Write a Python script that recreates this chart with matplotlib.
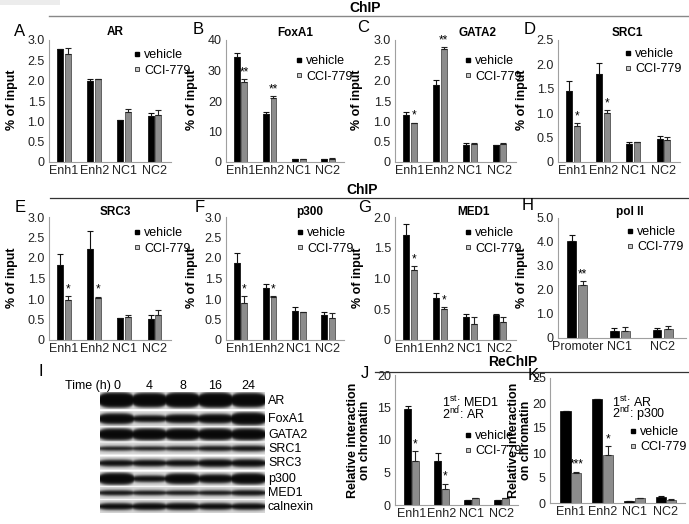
import numpy as np
import matplotlib
matplotlib.use("Agg")
import matplotlib.pyplot as plt
from matplotlib.lines import Line2D
from matplotlib.patches import Rectangle

plt.rcParams["font.family"] = ["Liberation Sans", "DejaVu Sans"]
plt.rcParams["mathtext.fontset"] = "custom"
plt.rcParams["mathtext.rm"] = "Liberation Sans"

W, H = 689, 524

# ---- data -------------------------------------------------------------
cats4 = ["Enh1", "Enh2", "NC1", "NC2"]
cats_pol = ["Promoter", "NC1", "NC2"]

ar_veh = [2.78, 1.98, 1.04, 1.14]
ar_veh_err = [0.0, 0.07, 0.0, 0.06]
ar_cci = [2.66, 2.04, 1.23, 1.15]
ar_cci_err = [0.14, 0.01, 0.08, 0.14]
ar_stars = ["", "", "", ""]

foxa1_veh = [34.3, 15.7, 0.9, 0.9]
foxa1_veh_err = [1.4, 0.7, 0.05, 0.05]
foxa1_cci = [26.3, 20.9, 0.9, 1.1]
foxa1_cci_err = [0.9, 0.8, 0.05, 0.05]
foxa1_stars = ["**", "**", "", ""]

gata2_veh = [1.16, 1.89, 0.43, 0.42]
gata2_veh_err = [0.06, 0.12, 0.03, 0.01]
gata2_cci = [0.95, 2.79, 0.44, 0.44]
gata2_cci_err = [0.02, 0.04, 0.03, 0.03]
gata2_stars = ["*", "**", "", ""]

src1_veh = [1.46, 1.80, 0.36, 0.48]
src1_veh_err = [0.20, 0.22, 0.06, 0.06]
src1_cci = [0.73, 1.00, 0.41, 0.46]
src1_cci_err = [0.06, 0.06, 0.01, 0.05]
src1_stars = ["*", "*", "", ""]

src3_veh = [1.83, 2.21, 0.53, 0.52]
src3_veh_err = [0.27, 0.44, 0.0, 0.10]
src3_cci = [0.98, 1.03, 0.56, 0.61]
src3_cci_err = [0.10, 0.03, 0.06, 0.13]
src3_stars = ["*", "*", "", ""]

p300_veh = [1.89, 1.28, 0.71, 0.60]
p300_veh_err = [0.22, 0.08, 0.10, 0.09]
p300_cci = [0.90, 1.06, 0.69, 0.54]
p300_cci_err = [0.18, 0.02, 0.0, 0.13]
p300_stars = ["*", "*", "", ""]

med1_veh = [1.70, 0.69, 0.37, 0.40]
med1_veh_err = [0.18, 0.08, 0.05, 0.02]
med1_cci = [1.14, 0.51, 0.26, 0.30]
med1_cci_err = [0.06, 0.02, 0.11, 0.07]
med1_stars = ["*", "*", "", ""]

pol2_veh = [4.04, 0.31, 0.33]
pol2_veh_err = [0.27, 0.12, 0.07]
pol2_cci = [2.20, 0.31, 0.37]
pol2_cci_err = [0.18, 0.15, 0.12]
pol2_stars = ["**", "", ""]

re_med1_veh = [14.7, 6.8, 0.8, 0.7]
re_med1_veh_err = [0.6, 1.2, 0.0, 0.0]
re_med1_cci = [6.7, 2.5, 1.1, 1.1]
re_med1_cci_err = [1.6, 0.8, 0.05, 0.05]
re_med1_stars = ["*", "*", "", ""]

re_ar_veh = [18.4, 20.9, 0.5, 1.2]
re_ar_veh_err = [0.0, 0.0, 0.0, 0.3]
re_ar_cci = [6.0, 9.6, 1.0, 0.7]
re_ar_cci_err = [0.3, 1.8, 0.1, 0.1]
re_ar_stars = ["***", "*", "", ""]

blot_times = ["0", "4", "8", "16", "24"]
blot_proteins = ["AR", "FoxA1", "GATA2", "SRC1", "SRC3", "p300", "MED1", "calnexin"]
blot_bands = [
    [1.00, 0.95, 1.00, 1.00, 0.95],
    [0.85, 0.55, 0.70, 0.75, 1.00],
    [1.00, 1.00, 1.00, 1.00, 1.00],
    [0.40, 0.40, 0.40, 0.50, 0.55],
    [0.60, 0.60, 0.60, 0.70, 0.70],
    [1.00, 0.55, 0.90, 0.75, 0.95],
    [0.50, 0.45, 0.45, 0.45, 0.55],
    [0.60, 0.65, 0.65, 0.60, 0.60],
]

VEH = "#000000"
CCI = "#8c8c8c"
AXC = "#a0a0a0"

fig = plt.figure(figsize=(W / 100, H / 100), dpi=100)


def px_axes(x0, yt, x1, yb):
    return fig.add_axes([x0 / W, 1 - yb / H, (x1 - x0) / W, (yb - yt) / H])


def ftext(x, y, s, **kw):
    kw.setdefault("ha", "center")
    kw.setdefault("va", "center")
    return fig.text(x / W, 1 - y / H, s, **kw)


def bar_panel(box, cats, veh, veh_err, cci, cci_err, stars, ymax, step,
              xlim=(-0.5, 3.55), width=0.2, off=0.13, decimals=1, leg=None):
    ax = px_axes(*box)
    x = np.arange(len(cats))
    z = [0] * len(cats)
    ax.bar(x - off, veh, width, color=VEH, edgecolor=VEH, linewidth=0.5, zorder=2)
    ax.bar(x + off, cci, width, color=CCI, edgecolor="#3a3a3a", linewidth=0.5, zorder=2)
    ax.errorbar(x - off, veh, yerr=[z, veh_err], fmt="none", ecolor="#111",
                elinewidth=0.8, capsize=2, capthick=0.8, zorder=3)
    ax.errorbar(x + off, cci, yerr=[z, cci_err], fmt="none", ecolor="#222",
                elinewidth=0.8, capsize=2, capthick=0.8, zorder=3)
    for i, s in enumerate(stars):
        if s:
            ax.annotate(s, (x[i] + off, cci[i] + cci_err[i]), xytext=(0, 0.5),
                        textcoords="offset points", ha="center", va="bottom",
                        fontsize=8.5)
    ax.set_xlim(*xlim)
    ax.set_ylim(0, ymax)
    ticks = np.arange(0, ymax + step / 2, step)
    ax.set_yticks(ticks)
    ax.set_yticklabels(["0" if t == 0 else ("%.*f" % (decimals, t)) for t in ticks])
    ax.set_xticks(x)
    ax.set_xticklabels(cats)
    ax.tick_params(axis="both", length=0, labelsize=9, colors="#222")
    ax.tick_params(axis="y", pad=3)
    ax.tick_params(axis="x", pad=2.5)
    for sp in ["top", "right"]:
        ax.spines[sp].set_visible(False)
    for sp in ["left", "bottom"]:
        ax.spines[sp].set_color(AXC)
        ax.spines[sp].set_linewidth(0.8)
    ax.patch.set_alpha(0)
    if leg is not None:
        hx, hy = leg
        handles = [
            Line2D([], [], ls="", marker="s", markersize=3.4, mfc=VEH, mec=VEH),
            Line2D([], [], ls="", marker="s", markersize=3.4, mfc="#c8c8c8", mec="#444",
                   mew=0.7),
        ]
        ax.legend(handles, ["vehicle", "CCI-779"], loc="upper left",
                  bbox_to_anchor=((hx - 3.5) / W, 1 - (hy - 7) / H),
                  bbox_transform=fig.transFigure, frameon=False, fontsize=9,
                  handlelength=0.55, handletextpad=0.3, labelspacing=0.28,
                  borderpad=0, borderaxespad=0)
    return ax


# ---- headers ---------------------------------------------------------
fig.add_artist(Rectangle((0, 1 - 5 / H), 60 / W, 5 / H, transform=fig.transFigure,
                         color="#ececec", lw=0))
fig.add_artist(Line2D([49 / W, 1], [1 - 16 / H] * 2, color="#888", lw=1.0))
ftext(365, 8, "ChIP", fontsize=10, fontweight="bold")
fig.add_artist(Line2D([50 / W, 1], [1 - 198 / H] * 2, color="#333", lw=0.9))
ftext(362, 190, "ChIP", fontsize=10, fontweight="bold")
fig.add_artist(Line2D([375 / W, 1], [1 - 372 / H] * 2, color="#333", lw=0.9))
ftext(513, 362, "ReChIP", fontsize=10, fontweight="bold")

# ---- row 1 -----------------------------------------------------------
r1 = (40, 162)
bar_panel((49, r1[0], 171, r1[1]), cats4, ar_veh, ar_veh_err, ar_cci, ar_cci_err,
          ar_stars, 3.0, 0.5, leg=(137, 56))
bar_panel((226, r1[0], 344, r1[1]), cats4, foxa1_veh, foxa1_veh_err, foxa1_cci,
          foxa1_cci_err, foxa1_stars, 40, 10, decimals=0, leg=(299, 62))
bar_panel((395, r1[0], 516, r1[1]), cats4, gata2_veh, gata2_veh_err, gata2_cci,
          gata2_cci_err, gata2_stars, 3.0, 0.5, leg=(468, 62))
bar_panel((558, r1[0], 680, r1[1]), cats4, src1_veh, src1_veh_err, src1_cci,
          src1_cci_err, src1_stars, 2.5, 0.5, leg=(628, 55))

# ---- row 2 -----------------------------------------------------------
r2 = (217, 340)
bar_panel((49, r2[0], 171, r2[1]), cats4, src3_veh, src3_veh_err, src3_cci,
          src3_cci_err, src3_stars, 3.0, 0.5, leg=(137, 234))
bar_panel((226, r2[0], 344, r2[1]), cats4, p300_veh, p300_veh_err, p300_cci,
          p300_cci_err, p300_stars, 3.0, 0.5, leg=(300, 234))
bar_panel((395, r2[0], 516, r2[1]), cats4, med1_veh, med1_veh_err, med1_cci,
          med1_cci_err, med1_stars, 2.0, 0.5, leg=(468, 234))
bar_panel((558, 218, 686, 338), cats_pol, pol2_veh, pol2_veh_err, pol2_cci,
          pol2_cci_err, pol2_stars, 5.0, 1.0, xlim=(-0.45, 2.55), width=0.21,
          leg=(630, 233))

# ---- row 3 (ReChIP) --------------------------------------------------
bar_panel((395, 375, 518, 505), cats4, re_med1_veh, re_med1_veh_err, re_med1_cci,
          re_med1_cci_err, re_med1_stars, 20, 5, decimals=0, xlim=(-0.55, 3.55),
          width=0.22, leg=(468, 437))
bar_panel((550, 378, 685, 503), cats4, re_ar_veh, re_ar_veh_err, re_ar_cci,
          re_ar_cci_err, re_ar_stars, 25, 5, decimals=0, xlim=(-0.66, 3.6),
          width=0.32, off=0.17, leg=(633, 433))

ftext(442, 402, r"1$^{\mathrm{st}}$: MED1", fontsize=9, ha="left")
ftext(442, 414, r"2$^{\mathrm{nd}}$: AR", fontsize=9, ha="left")
ftext(612, 402, r"1$^{\mathrm{st}}$: AR", fontsize=9, ha="left")
ftext(612, 414, r"2$^{\mathrm{nd}}$: p300", fontsize=9, ha="left")

# ---- titles, letters, y labels ----------------------------------------
titles = [("AR", 115, 32), ("FoxA1", 295, 33), ("GATA2", 478, 33), ("SRC1", 627, 33),
          ("SRC3", 115, 212), ("p300", 310, 212), ("MED1", 473, 212), ("pol II", 630, 212)]
for t, x, y in titles:
    ftext(x, y, t, fontsize=8.5, fontweight="bold")

letters = [("A", 20, 32), ("B", 198, 30), ("C", 363, 28), ("D", 530, 30),
           ("E", 20, 207), ("F", 200, 207), ("G", 365, 208), ("H", 528, 205),
           ("I", 41, 372), ("J", 365, 373), ("K", 533, 375)]
for t, x, y in letters:
    ftext(x, y, t, fontsize=12)

for x, y in [(12, 100), (192, 100), (357, 100), (522, 100),
             (12, 278), (192, 278), (358, 278), (522, 278)]:
    ftext(x, y, "% of input", fontsize=9, fontweight="bold", rotation=90)
for x in (359, 520):
    ftext(x, 440, "Relative interaction\non chromatin", fontsize=9,
          fontweight="bold", rotation=90, linespacing=1.0)

# ---- I: western blot --------------------------------------------------
bx0, bx1, by0, by1 = 100, 265, 392, 513
row_px = [(392, 410), (412, 427), (428, 442), (443, 455), (457, 470),
          (472, 486), (487, 499), (500, 513)]
bw, bh = bx1 - bx0, by1 - by0
img = np.ones((bh, bw))
xx = np.arange(bw) + 0.5
lane_w = bw / len(blot_times)
for (ya, yb), strengths in zip(row_px, blot_bands):
    r0, r1_ = ya - by0, yb - by0
    yy = (np.arange(r0, r1_) + 0.5)[:, None]
    yc = (r0 + r1_) / 2
    band = np.zeros((r1_ - r0, bw))
    for i, s in enumerate(strengths):
        xc = (i + 0.5) * lane_w
        dx = (xx - xc) / (0.56 * lane_w)
        half = s * (r1_ - r0) * 0.42 * np.sqrt(np.clip(1 - dx ** 4, 0, 1))
        lane = 1 / (1 + np.exp((np.abs(yy - yc) - half[None, :]) / 0.9))
        band = np.maximum(band, lane)
    img[r0:r1_, :] = 0.86 * (1 - 0.96 * band)

bax = px_axes(bx0, by0, bx1, by1)
bax.imshow(img, cmap="gray", vmin=0, vmax=1, extent=(0, bw, bh, 0),
           interpolation="bilinear", aspect="auto")
bax.axis("off")
for name, (ya, yb) in zip(blot_proteins, row_px):
    ftext(268, (ya + yb) / 2, name, fontsize=9, ha="left")
ftext(65, 386, "Time (h)", fontsize=9, ha="left")
for i, t in enumerate(blot_times):
    ftext(bx0 + (i + 0.5) * lane_w, 386, t, fontsize=9)

fig.savefig("out.png", dpi=100)
